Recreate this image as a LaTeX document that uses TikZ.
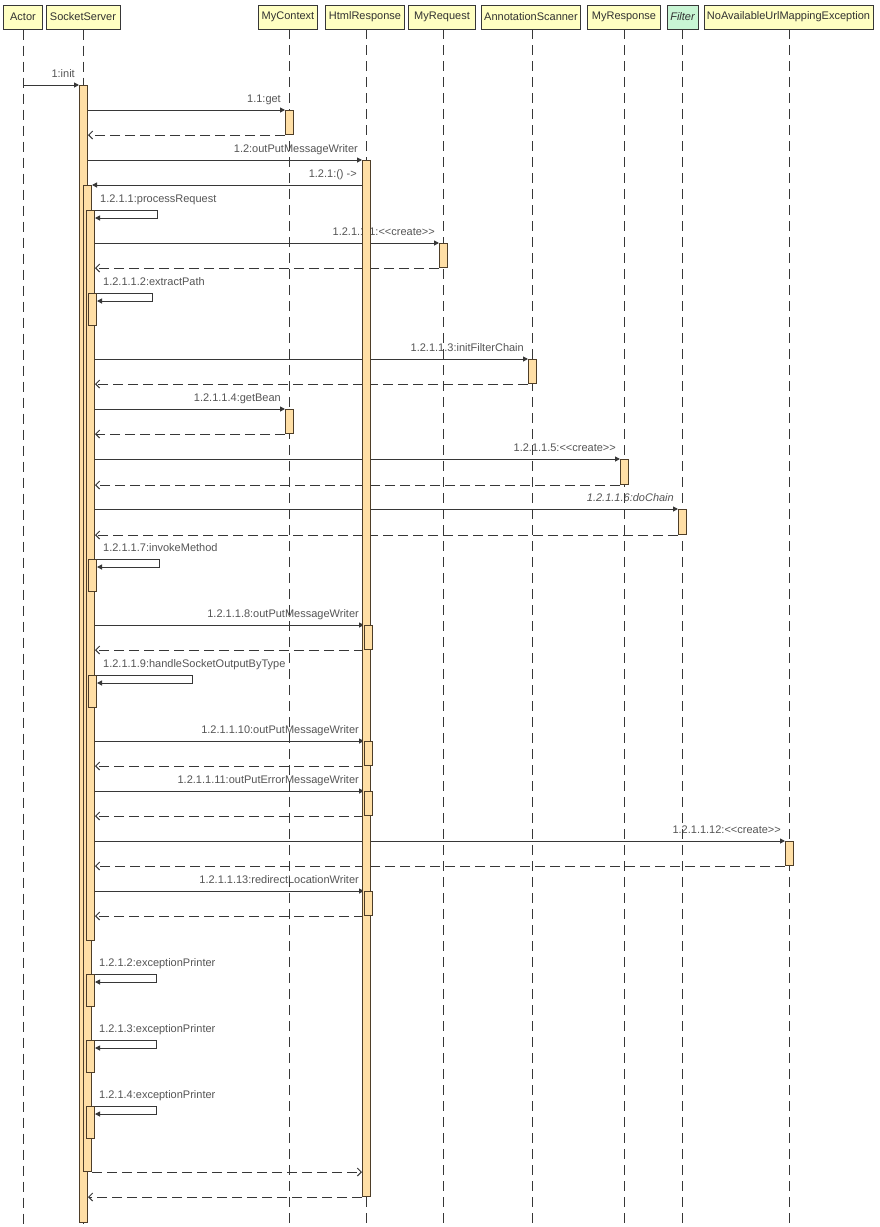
\documentclass[tikz,border=0pt]{standalone}
\usepackage{fontspec}
\newfontfamily\lf{Liberation Sans}
\usetikzlibrary{arrows.meta}
\pgfdeclarelayer{bg}\pgfdeclarelayer{fg}
\pgfsetlayers{bg,main,fg}
\definecolor{hdrfill}{RGB}{255,255,194}
\definecolor{filtfill}{RGB}{200,245,212}
\definecolor{actfill}{RGB}{255,223,166}
\definecolor{actline}{RGB}{78,62,40}
\definecolor{ln}{RGB}{55,55,55}
\definecolor{txt}{RGB}{85,85,85}
\definecolor{htxt}{RGB}{50,50,50}
\newcommand\actbox[4]{\node[act, minimum height={(#4-#3)*1pt}] (#1) at (#2,#3) {};}
\begin{document}
\begin{tikzpicture}[x=1pt,y=-1pt,
 every node/.style={font=\lf\fontsize{11}{13}\selectfont},
 hdr/.style={draw=ln, fill=hdrfill, line width=1pt, minimum height=24pt, inner sep=0pt, text=htxt},
 act/.style={draw=actline, fill=actfill, line width=1pt, minimum width=8pt, inner sep=0pt, anchor=north west},
 life/.style={draw=ln, line width=1pt, dash pattern=on 10pt off 6pt},
 call/.style={draw=ln, line width=1pt, -{Triangle[length=5pt,width=5pt]}},
 ret/.style={draw=ln, line width=1pt, dash pattern=on 10pt off 5pt, -{Straight Barb[length=4pt,width=8pt]}},
 lbl/.style={text=txt, inner sep=0pt, anchor=base east},
 slbl/.style={text=txt, inner sep=0pt, anchor=base west}]
\useasboundingbox (0,0) rectangle (879,1227);
% headers
\begin{pgfonlayer}{fg}
\node[hdr, minimum width=39pt] (actor) at (23,17) {Actor};
\node[hdr, minimum width=74pt] (ss) at (83,17) {SocketServer};
\node[hdr, minimum width=59pt] (ctx) at (288,17) {MyContext};
\node[hdr, minimum width=79pt] (html) at (365,17) {HtmlResponse};
\node[hdr, minimum width=67pt] (req) at (442,17) {MyRequest};
\node[hdr, minimum width=99pt] (scan) at (531,17) {AnnotationScanner};
\node[hdr, minimum width=73pt] (resp) at (624,17) {MyResponse};
\node[hdr, minimum width=31pt, fill=filtfill, font=\lf\itshape\fontsize{11}{13}\selectfont] (filt) at (682.5,17) {Filter};
\node[hdr, minimum width=169pt] (exc) at (788.5,17) {NoAvailableUrlMappingException};
% activation bars
\actbox{ss0}{79}{85}{1222}
\actbox{ss1}{83}{185}{1171}
\actbox{ss2}{86}{210}{940}
\actbox{ss3}{88}{293}{325}
\actbox{ctx1}{285}{110}{134}
\actbox{html0}{362}{160}{1196}
\actbox{req1}{439}{243}{267}
\actbox{scan1}{528}{359}{383}
\actbox{ctx2}{285}{409}{433}
\actbox{resp1}{620}{459}{484}
\actbox{filt1}{678}{509}{534}
\actbox{ss4}{88}{559}{591}
\actbox{html1}{364}{625}{649}
\actbox{ss5}{88}{675}{707}
\actbox{html2}{364}{741}{765}
\actbox{html3}{364}{791}{815}
\actbox{exc1}{785}{841}{865}
\actbox{html4}{364}{891}{915}
\actbox{ss6}{86}{974}{1006}
\actbox{ss7}{86}{1040}{1072}
\actbox{ss8}{86}{1106}{1138}
\end{pgfonlayer}
% lifelines
\draw[life] (actor.south -| 23,0) -- (23,1227);
\draw[life] (ss.south) -- (ss.south |- 0,1227);
\draw[life] (289,29) -- (289,1227);
\draw[life] (366,29) -- (366,1227);
\draw[life] (443,29) -- (443,1227);
\draw[life] (532,29) -- (532,1227);
\draw[life] (624,29) -- (624,1227);
\draw[life] (682,29) -- (682,1227);
\draw[life] (789,29) -- (789,1227);
% labels
\begin{pgfonlayer}{bg}
\fill[white] (0,0) rectangle (879,1227);
\node[lbl] (l1) at (75,77) {1:init};
\node[lbl] (l11) at (281,102) {1.1:get};
\node[lbl] (l12) at (358,152) {1.2:outPutMessageWriter};
\node[lbl] (l121) at (357,177) {1.2.1:() ->};
\node[slbl] (l1211) at (100,202) {1.2.1.1:processRequest};
\node[lbl] (l12111) at (435,235) {1.2.1.1.1:<\kern0pt<create>\kern0pt>};
\node[slbl] (l12112) at (103,285) {1.2.1.1.2:extractPath};
\node[lbl] (l12113) at (524,351) {1.2.1.1.3:initFilterChain};
\node[lbl] (l12114) at (281,401) {1.2.1.1.4:getBean};
\node[lbl] (l12115) at (616,451) {1.2.1.1.5:<\kern0pt<create>\kern0pt>};
\node[lbl, font=\lf\itshape\fontsize{11}{13}\selectfont] (l12116) at (674,501) {1.2.1.1.6:doChain};
\node[slbl] (l12117) at (103,551) {1.2.1.1.7:invokeMethod};
\node[lbl] (l12118) at (359,617) {1.2.1.1.8:outPutMessageWriter};
\node[slbl] (l12119) at (103,667) {1.2.1.1.9:handleSocketOutputByType};
\node[lbl] (l121110) at (359,733) {1.2.1.1.10:outPutMessageWriter};
\node[lbl] (l121111) at (359,783) {1.2.1.1.11:outPutErrorMessageWriter};
\node[lbl] (l121112) at (781,833) {1.2.1.1.12:<\kern0pt<create>\kern0pt>};
\node[lbl] (l121113) at (359,883) {1.2.1.1.13:redirectLocationWriter};
\node[slbl] (l1212) at (99,966) {1.2.1.2:exceptionPrinter};
\node[slbl] (l1213) at (99,1032) {1.2.1.3:exceptionPrinter};
\node[slbl] (l1214) at (99,1098) {1.2.1.4:exceptionPrinter};
\end{pgfonlayer}
% messages
\draw[call] (23,85) -- (ss0.north west);
\draw[call] (ss0.east |- ctx1.north) -- (ctx1.north west);
\draw[ret] (ctx1.south west) -- (ss0.east |- ctx1.south);
\draw[call] (ss0.east |- html0.north) -- (html0.north west);
\draw[call] (html0.west |- ss1.north) -- (ss1.north east);
\draw[call] (ss1.east |- ss2.north) -- (157,210) -- (157,218) -- (ss2.east |- 0,218);
\draw[call] (ss2.east |- req1.north) -- (req1.north west);
\draw[ret] (req1.south west) -- (ss2.east |- req1.south);
\draw[call] (ss2.east |- ss3.north) -- (152,293) -- (152,301) -- (ss3.east |- 0,301);
\draw[call] (ss2.east |- scan1.north) -- (scan1.north west);
\draw[ret] (scan1.south west) -- (ss2.east |- scan1.south);
\draw[call] (ss2.east |- ctx2.north) -- (ctx2.north west);
\draw[ret] (ctx2.south west) -- (ss2.east |- ctx2.south);
\draw[call] (ss2.east |- resp1.north) -- (resp1.north west);
\draw[ret] (resp1.south west) -- (ss2.east |- resp1.south);
\draw[call] (ss2.east |- filt1.north) -- (filt1.north west);
\draw[ret] (filt1.south west) -- (ss2.east |- filt1.south);
\draw[call] (ss2.east |- ss4.north) -- (159,559) -- (159,567) -- (ss4.east |- 0,567);
\draw[call] (ss2.east |- html1.north) -- (html1.north west);
\draw[ret] (html1.south west) -- (ss2.east |- html1.south);
\draw[call] (ss2.east |- ss5.north) -- (192,675) -- (192,683) -- (ss5.east |- 0,683);
\draw[call] (ss2.east |- html2.north) -- (html2.north west);
\draw[ret] (html2.south west) -- (ss2.east |- html2.south);
\draw[call] (ss2.east |- html3.north) -- (html3.north west);
\draw[ret] (html3.south west) -- (ss2.east |- html3.south);
\draw[call] (ss2.east |- exc1.north) -- (exc1.north west);
\draw[ret] (exc1.south west) -- (ss2.east |- exc1.south);
\draw[call] (ss2.east |- html4.north) -- (html4.north west);
\draw[ret] (html4.south west) -- (ss2.east |- html4.south);
\draw[call] (ss1.east |- ss6.north) -- (156,974) -- (156,982) -- (ss6.east |- 0,982);
\draw[call] (ss1.east |- ss7.north) -- (156,1040) -- (156,1048) -- (ss7.east |- 0,1048);
\draw[call] (ss1.east |- ss8.north) -- (156,1106) -- (156,1114) -- (ss8.east |- 0,1114);
\draw[ret] (ss1.south east) -- (html0.west |- ss1.south);
\draw[ret] (html0.south west) -- (ss0.east |- html0.south);
\end{tikzpicture}
\end{document}
